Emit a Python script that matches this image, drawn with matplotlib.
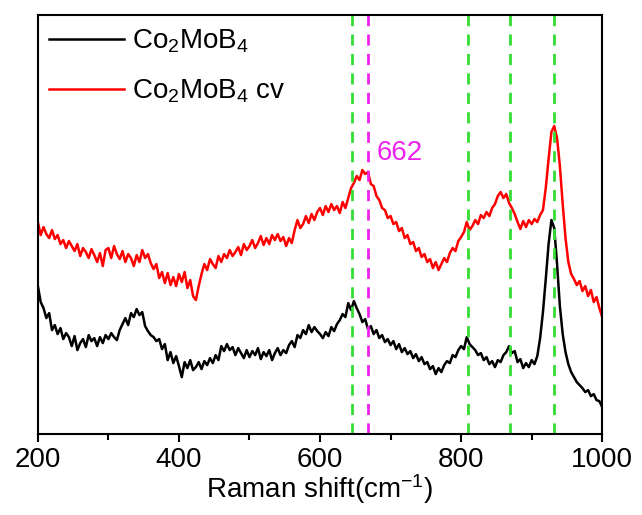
import numpy as np
import matplotlib
matplotlib.use('Agg')
import matplotlib.pyplot as plt
from matplotlib.ticker import MultipleLocator

plt.rcParams['font.family'] = 'Liberation Sans'
plt.rcParams['mathtext.fontset'] = 'custom'
plt.rcParams['mathtext.rm'] = 'Liberation Sans'
plt.rcParams['mathtext.it'] = 'Liberation Sans:italic'

# Raman shift grid (cm-1), every 4 cm-1
shift = np.arange(200, 1001, 4)

# intensities (a.u.), one row per 100 cm-1
co2mob4 = [
    148, 132, 126, 116, 121, 104, 109, 100, 106, 95, 101, 97, 88, 98, 84, 91, 95, 87, 99, 93, 96, 88, 97, 91, 99,
    95, 101, 97, 94, 104, 110, 116, 109, 121, 117, 125, 119, 122, 108, 103, 99, 97, 93, 95, 85, 90, 74, 82, 71, 78,
    68, 57, 72, 66, 74, 64, 67, 72, 65, 73, 69, 76, 71, 79, 74, 88, 83, 90, 84, 87, 79, 86, 81, 76, 84,
    77, 83, 79, 86, 75, 82, 78, 84, 74, 81, 86, 79, 84, 81, 89, 93, 87, 99, 96, 104, 100, 109, 102, 107, 103,
    100, 96, 102, 98, 107, 103, 110, 114, 120, 117, 131, 124, 133, 126, 120, 112, 115, 105, 108, 100, 104, 96, 99, 92, 95,
    89, 93, 85, 90, 82, 86, 80, 83, 76, 80, 73, 77, 70, 72, 65, 68, 60, 66, 62, 69, 73, 71, 79, 77, 84,
    88, 85, 97, 90, 87, 84, 79, 81, 74, 77, 70, 73, 67, 74, 72, 79, 82, 88, 81, 83, 72, 75, 66, 71, 67,
    74, 70, 78, 96, 122, 155, 190, 214, 206, 170, 128, 100, 82, 70, 62, 57, 52, 49, 46, 42, 44, 38, 40, 34, 33,
    27,
]

co2mob4_cv = [
    212, 199, 207, 200, 196, 204, 195, 199, 190, 194, 186, 193, 188, 183, 190, 178, 186, 182, 176, 185, 179, 172, 181, 168, 184,
    186, 176, 188, 180, 175, 183, 172, 180, 176, 168, 179, 172, 184, 176, 180, 171, 165, 170, 156, 162, 151, 161, 149, 157, 148,
    160, 152, 162, 146, 154, 138, 134, 148, 160, 170, 164, 175, 170, 166, 178, 172, 180, 176, 184, 178, 182, 187, 179, 190, 184,
    188, 194, 186, 191, 198, 189, 196, 190, 199, 194, 200, 193, 197, 188, 196, 191, 204, 214, 206, 210, 218, 211, 220, 214, 222,
    226, 219, 228, 222, 230, 224, 228, 221, 232, 226, 236, 246, 251, 258, 254, 264, 260, 262, 250, 248, 238, 234, 226, 224, 216,
    218, 210, 212, 203, 206, 196, 199, 190, 192, 183, 186, 177, 180, 172, 175, 166, 172, 164, 170, 176, 172, 181, 186, 183, 193,
    197, 202, 212, 204, 208, 214, 210, 219, 216, 222, 218, 226, 230, 238, 242, 236, 240, 231, 226, 220, 212, 205, 213, 207, 214,
    210, 215, 212, 219, 224, 246, 275, 302, 308, 296, 268, 230, 196, 172, 160, 155, 149, 153, 143, 148, 138, 144, 132, 137, 126,
    117,
]

green_lines = [646, 810, 870, 932]
magenta_line = 668
peak_label = '662'

fig = plt.figure(figsize=(6.42, 5.15), dpi=100)
ax = fig.add_axes([0.059, 0.157, 0.879, 0.814])

ax.plot(shift, co2mob4, color='black', lw=1.8, label=r'Co$_2$MoB$_4$')
ax.plot(shift, co2mob4_cv, color='red', lw=1.8, label=r'Co$_2$MoB$_4$ cv')

for xv in green_lines:
    ax.axvline(xv, color='#33dd33', lw=2, dashes=(4, 3))
ax.axvline(magenta_line, color='#ee22ee', lw=2, dashes=(4, 3))
ax.text(680, 281, peak_label, color='#ee22ee', fontsize=20, va='center', ha='left')

ax.set_xlim(200, 1000)
ax.set_ylim(0, 419)
ax.set_yticks([])
ax.xaxis.set_major_locator(MultipleLocator(200))
ax.xaxis.set_minor_locator(MultipleLocator(100))
ax.tick_params(axis='x', which='major', direction='out', length=6, width=1.5,
               labelsize=20, pad=3)
ax.tick_params(axis='x', which='minor', direction='out', length=4, width=1.5)
for s in ax.spines.values():
    s.set_linewidth(1.5)

ax.set_xlabel('Raman shift(cm$^{-1}$)', fontsize=20, labelpad=0)
ax.legend(loc='upper left', bbox_to_anchor=(0.009, 0.983), frameon=False,
          fontsize=20, handlelength=2.7, handletextpad=0.3, borderaxespad=0.1,
          borderpad=0.1, labelspacing=0.8)

fig.savefig('out.png', dpi=100)
